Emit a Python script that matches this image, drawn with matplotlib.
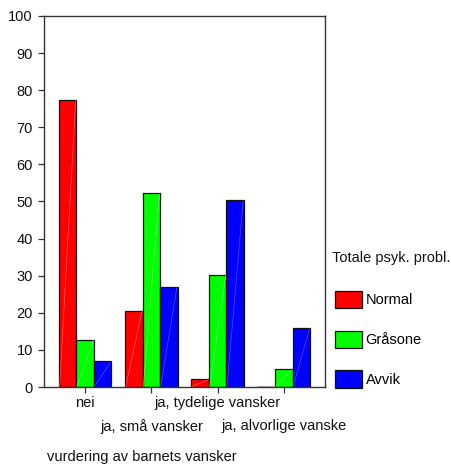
import matplotlib
matplotlib.use("Agg")
import matplotlib.pyplot as plt
import numpy as np

plt.rcParams['font.family'] = ['Liberation Sans', 'DejaVu Sans']

categories = ["nei", "ja, små vansker", "ja, tydelige vansker", "ja, alvorlige vanske"]
series_names = ["Normal", "Gråsone", "Avvik"]
normal = [77.3, 20.6, 2.1, 0.0]
graasone = [12.7, 52.2, 30.3, 4.8]
avvik = [6.9, 27.0, 50.3, 15.8]
colors = ["#ff0000", "#00ff00", "#0000ff"]
shine = ["#ff8080", "#90ff90", "#7070ff"]
yticks = [0, 10, 20, 30, 40, 50, 60, 70, 80, 90, 100]

FS = 10.5
fig = plt.figure(figsize=(4.51, 4.73), dpi=100)
ax = fig.add_axes([0.0976, 0.1818, 0.6230, 0.7844])

x = np.arange(len(categories))
width = 0.263
edge = "#111111"
for i, (vals, name) in enumerate(zip([normal, graasone, avvik], series_names)):
    bars = ax.bar(x + (i - 1) * width, vals, width, color=colors[i],
                  edgecolor=edge, linewidth=0.9, label=name, zorder=2)
    for b in bars:
        h = b.get_height()
        if h > 0.5:
            ax.plot([b.get_x() + 0.01, b.get_x() + b.get_width() - 0.01], [0.2, h - 0.2],
                    color=shine[i], lw=0.5, alpha=0.7, zorder=3)
        else:
            ax.plot([b.get_x(), b.get_x() + b.get_width()], [h, h],
                    color="#550000", lw=1.0, zorder=3)

ax.set_xlim(-0.62, 3.62)
ax.set_ylim(0, 100)
ax.set_yticks(yticks)
ax.set_xticks(x)
ax.set_xticklabels(categories)
for s in ax.spines.values():
    s.set_color("#333333")
    s.set_linewidth(1.0)
ax.tick_params(axis="both", labelsize=FS, length=4, width=0.9, color="#333333",
               labelcolor="#111111")
ax.tick_params(axis="y", pad=4)
for k, t in enumerate(ax.xaxis.get_major_ticks()):
    t.set_pad(2.5 if k % 2 == 0 else 19)

fig.text(0.104, 0.02, "vurdering av barnets vansker", fontsize=FS, color="#111111",
         ha="left", va="bottom")

fig.text(332 / 451, 1 - 258 / 473, "Totale psyk. probl.", fontsize=FS, color="#111111",
         ha="left", va="center")
leg = ax.legend(loc="upper left",
                bbox_to_anchor=(335 / 451, 1 - 291 / 473), bbox_transform=fig.transFigure,
                frameon=False, fontsize=FS,
                handlelength=1.85, handleheight=1.45, labelspacing=1.53,
                handletextpad=0.25, borderaxespad=0, borderpad=0)
for h in leg.legend_handles:
    h.set_edgecolor(edge)

fig.savefig("out.png", dpi=100)
